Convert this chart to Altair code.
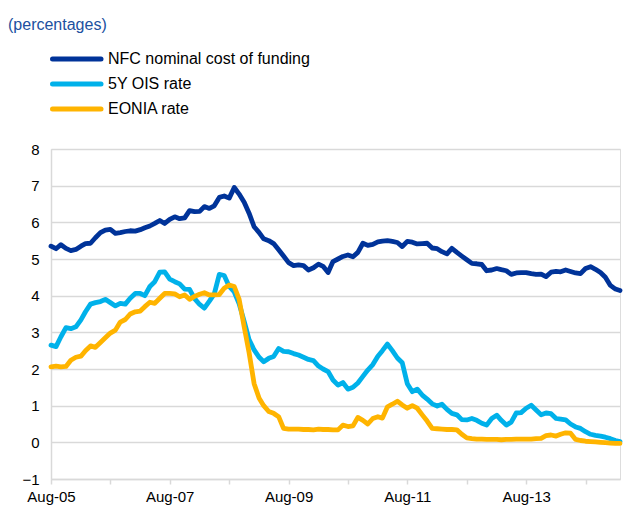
import altair as alt
import pandas as pd

months = pd.date_range("2005-08-01", periods=116, freq="MS").strftime("%Y-%m-%d").tolist()

nfc = [
    5.35, 5.28, 5.39, 5.29, 5.23, 5.26, 5.35, 5.42, 5.43, 5.58,
    5.72, 5.79, 5.81, 5.70, 5.72, 5.75, 5.77, 5.76, 5.80, 5.85,
    5.90, 5.97, 6.05, 5.97, 6.08, 6.15, 6.10, 6.12, 6.32, 6.29,
    6.30, 6.43, 6.38, 6.45, 6.68, 6.72, 6.66, 6.95, 6.77, 6.55,
    6.25, 5.88, 5.72, 5.55, 5.50, 5.42, 5.25, 5.08, 4.90, 4.82,
    4.84, 4.82, 4.70, 4.76, 4.86, 4.80, 4.63, 4.93, 5.00, 5.07,
    5.11, 5.06, 5.18, 5.43, 5.37, 5.40, 5.47, 5.49, 5.50, 5.48,
    5.45, 5.34, 5.48, 5.46, 5.41, 5.42, 5.43, 5.30, 5.28, 5.20,
    5.14, 5.29, 5.18, 5.08, 4.98, 4.88, 4.87, 4.85, 4.68, 4.70,
    4.74, 4.71, 4.68, 4.58, 4.62, 4.63, 4.63, 4.60, 4.58, 4.59,
    4.52, 4.64, 4.66, 4.65, 4.70, 4.66, 4.62, 4.60, 4.74, 4.79,
    4.72, 4.63, 4.50, 4.28, 4.18, 4.14,
]

ois = [
    2.65, 2.61, 2.88, 3.13, 3.10, 3.15, 3.34, 3.56, 3.77, 3.81,
    3.84, 3.90, 3.81, 3.72, 3.79, 3.77, 3.93, 4.06, 4.06, 4.00,
    4.25, 4.38, 4.64, 4.65, 4.45, 4.38, 4.32, 4.18, 4.17, 3.92,
    3.76, 3.66, 3.85, 4.05, 4.58, 4.55, 4.25, 4.10, 3.78, 3.30,
    2.80, 2.52, 2.32, 2.20, 2.29, 2.34, 2.56, 2.48, 2.47, 2.42,
    2.38, 2.32, 2.26, 2.23, 2.08, 2.00, 1.93, 1.70, 1.56, 1.63,
    1.45, 1.50, 1.62, 1.80, 1.97, 2.12, 2.35, 2.50, 2.68, 2.50,
    2.30, 2.17, 1.60, 1.38, 1.45, 1.29, 1.18, 1.05, 0.99, 1.04,
    0.90, 0.79, 0.75, 0.62, 0.61, 0.65, 0.60, 0.52, 0.47, 0.65,
    0.74, 0.60, 0.47, 0.55, 0.80, 0.81, 0.93, 1.01, 0.88, 0.75,
    0.80, 0.78, 0.65, 0.63, 0.61, 0.50, 0.42, 0.38, 0.29, 0.22,
    0.19, 0.17, 0.14, 0.10, 0.05, 0.02,
]

eonia = [
    2.06, 2.08, 2.06, 2.07, 2.24, 2.32, 2.35, 2.50, 2.63, 2.59,
    2.72, 2.85, 2.98, 3.06, 3.28, 3.35, 3.50, 3.56, 3.58, 3.70,
    3.82, 3.79, 3.93, 4.06, 4.06, 4.05, 3.97, 4.02, 3.90, 3.98,
    4.04, 4.08, 4.02, 4.02, 4.03, 4.20, 4.29, 4.25, 3.90, 3.15,
    2.45, 1.60, 1.20, 1.00, 0.84, 0.79, 0.70, 0.38, 0.36, 0.36,
    0.36, 0.35, 0.35, 0.34, 0.36, 0.35, 0.35, 0.34, 0.34, 0.47,
    0.43, 0.45, 0.68, 0.60, 0.50, 0.65, 0.70, 0.66, 0.97, 1.04,
    1.12, 1.02, 0.93, 1.00, 0.93, 0.75, 0.58, 0.38, 0.37, 0.36,
    0.35, 0.35, 0.34, 0.22, 0.12, 0.10, 0.09, 0.09, 0.08, 0.08,
    0.08, 0.07, 0.08, 0.08, 0.09, 0.09, 0.09, 0.09, 0.10, 0.11,
    0.18, 0.20, 0.17, 0.22, 0.26, 0.25, 0.08, 0.05, 0.03, 0.02,
    0.01, 0.00, -0.01, -0.02, -0.03, -0.03,
]

series_names = ["NFC nominal cost of funding", "5Y OIS rate", "EONIA rate"]
series_colors = ["#003399", "#00b1ea", "#ffb400"]
y_ticks = [-1, 0, 1, 2, 3, 4, 5, 6, 7, 8]
x_tick_dates = ["2005-08-01", "2006-08-01", "2007-08-01", "2008-08-01", "2009-08-01",
                "2010-08-01", "2011-08-01", "2012-08-01", "2013-08-01", "2014-08-01"]
title_text = "(percentages)"

rows = []
for k, (name, vals) in enumerate(zip(series_names, [nfc, ois, eonia])):
    for d, v in zip(months, vals):
        rows.append({"date": d, "value": v, "series": name, "order": k})
df = pd.DataFrame(rows)
leg_df = pd.DataFrame({"series": series_names})
title_df = pd.DataFrame({"t": [title_text]})

def ms(s):
    return int(pd.Timestamp(s, tz="UTC").value // 10**6)

FONT = "Liberation Sans"
GRID = "#d9d9d9"
color_scale = alt.Scale(domain=series_names, range=series_colors)

lines = alt.Chart(df).mark_line(strokeWidth=4.8, strokeJoin="round", strokeCap="round").encode(
    x=alt.X(
        "date:T",
        scale=alt.Scale(type="utc", domain=[ms(months[0]), ms(months[-1])], nice=False),
        axis=alt.Axis(
            title=None,
            values=[ms(d) for d in x_tick_dates],
            labelExpr="utcyear(datum.value) % 2 == 1 ? utcFormat(datum.value, '%b-%y') : ''",
            grid=False,
            domainColor=GRID,
            domainWidth=1.5,
            tickColor=GRID,
            tickWidth=1.5,
            tickSize=5,
            labelPadding=5,
            labelFont=FONT,
            labelFontSize=15,
            labelColor="#000000",
            labelFlush=False,
            labelOverlap=False,
        ),
    ),
    y=alt.Y(
        "value:Q",
        scale=alt.Scale(domain=[-1, 8], nice=False, zero=False),
        axis=alt.Axis(
            title=None,
            values=y_ticks,
            grid=True,
            gridColor=GRID,
            gridWidth=1.5,
            ticks=False,
            domainColor=GRID,
            domainWidth=1.5,
            labelPadding=12,
            labelFont=FONT,
            labelFontSize=15,
            labelColor="#000000",
        ),
    ),
    color=alt.Color("series:N", scale=color_scale, legend=None),
    order=alt.Order("order:Q", sort="descending"),
    detail="series:N",
)

leg_y = alt.Y(
    "series:N",
    scale=alt.Scale(type="point", domain=series_names, range=[-90, -40], padding=0),
    axis=None,
)

leg_rules = alt.Chart(leg_df).mark_rule(strokeWidth=5, strokeCap="round").encode(
    x=alt.value(1.5),
    x2=alt.value(50),
    y=leg_y,
    color=alt.Color("series:N", scale=color_scale, legend=None),
)

leg_text = alt.Chart(leg_df).mark_text(
    align="left", baseline="middle", font=FONT, fontSize=16, color="#000000"
).encode(
    x=alt.value(57),
    y=leg_y,
    text="series:N",
)

title = alt.Chart(title_df).mark_text(
    align="left", baseline="middle", font=FONT, fontSize=16, color="#2050a0"
).encode(
    x=alt.value(-43),
    y=alt.value(-124),
    text="t:N",
)

chart = alt.layer(lines, leg_rules, leg_text, title).resolve_scale(
    y="independent"
).properties(
    width=569,
    height=330,
    autosize=alt.AutoSizeParams(type="none"),
    padding={"left": 43, "top": 141, "right": 5, "bottom": 40},
).configure_view(stroke=None).configure(background="white")

chart.save("out.html", embed_options={"renderer": "svg", "actions": False})
